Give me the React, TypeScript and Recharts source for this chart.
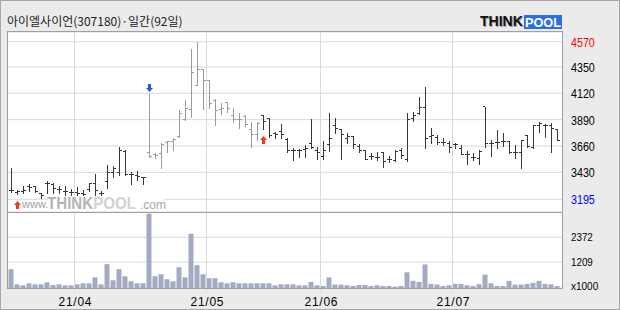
import React from 'react';
import { ComposedChart, Bar, XAxis, YAxis, CartesianGrid, ReferenceLine, ReferenceDot } from 'recharts';

const TITLE = '아이엘사이언(307180)·일간(92일)';

const opens = [3268,3256,3262,3305,3305,3247,3330,3320,3283,3262,3256,3253,3247,3282,3329,3247,3349,3430,3433,3616,3407,3400,3385,3605,3590,3596,3692,3700,3741,3887,3980,4192,4329,4230,4055,3980,4041,3930,3887,3916,3800,3762,3924,3898,3765,3790,3718,3620,3620,3631,3684,3620,3567,3669,3843,3806,3727,3741,3654,3625,3567,3558,3600,3540,3535,3625,3538,3902,3945,3994,3740,3730,3692,3684,3669,3634,3590,3558,3555,4003,3684,3692,3698,3698,3605,3605,3750,3645,3837,3843,3837,3800];
const highs = [3471,3276,3314,3326,3314,3247,3358,3335,3314,3314,3282,3300,3276,3340,3416,3267,3494,3485,3654,3625,3436,3442,3392,4111,3596,3684,3704,3732,3974,4061,4506,4570,4329,4236,4067,4038,4047,3994,3945,3930,3867,3867,3930,3902,3785,3849,3727,3645,3634,3669,3896,3654,3704,3950,3902,3806,3771,3747,3675,3625,3596,3610,3610,3575,3625,3640,3945,3954,4088,4177,3814,3756,3732,3704,3684,3669,3616,3596,3625,4003,3712,3800,3776,3704,3669,3712,3756,3843,3867,3849,3858,3806];
const lows = [3262,3242,3247,3265,3259,3204,3247,3253,3247,3233,3227,3212,3204,3271,3227,3227,3291,3392,3407,3407,3326,3363,3326,3567,3558,3471,3610,3625,3741,3887,3910,4192,3983,3994,3841,3936,3956,3867,3820,3838,3654,3712,3808,3741,3727,3727,3611,3538,3567,3567,3640,3547,3547,3620,3771,3547,3684,3640,3610,3544,3547,3538,3480,3523,3529,3558,3529,3878,3937,3645,3684,3675,3669,3610,3645,3587,3500,3538,3500,3654,3575,3645,3663,3596,3558,3471,3654,3640,3780,3741,3605,3712];
const closes = [3272,3262,3270,3300,3262,3227,3330,3285,3280,3262,3250,3247,3233,3329,3271,3242,3433,3465,3625,3407,3410,3392,3383,3567,3575,3669,3695,3721,3945,3983,4300,4329,4230,4032,3974,3983,3983,3887,3895,3849,3762,3858,3878,3750,3760,3760,3620,3620,3620,3640,3645,3605,3625,3727,3814,3762,3742,3669,3625,3544,3567,3558,3529,3540,3610,3575,3887,3930,3994,3727,3750,3692,3692,3650,3669,3590,3590,3558,3615,3684,3684,3692,3698,3605,3605,3712,3660,3837,3858,3843,3814,3712];
const volumes = [882,173,126,220,173,173,268,142,173,126,126,173,220,220,504,173,1118,362,882,551,315,220,220,3481,551,646,410,315,977,504,2536,1071,646,457,457,268,220,268,220,220,220,220,220,220,126,173,173,173,126,126,288,128,96,496,160,160,128,96,144,144,96,128,96,96,64,96,736,336,288,1104,192,160,96,128,192,192,128,96,176,624,224,96,96,336,160,160,192,240,336,192,176,96];

const priceTicks = [3195, 3430, 3660, 3890, 4120, 4350, 4570];
const volumeTicks = [0, 1209, 2372];
const monthLabels = ['21/04', '21/05', '21/06', '21/07'];
const monthStartIndex = [11, 33, 52, 74];
const upSignals = [1, 42];
const downSignals = [23];
const grayFrom = 23;
const grayTo = 41;

const data = opens.map((o, i) => ({
  i,
  o,
  h: highs[i],
  l: lows[i],
  c: closes[i],
  range: [lows[i], highs[i]],
  vol: volumes[i],
}));

const boundaries = monthStartIndex.map((m) => m - 0.5);
const GRID = '#d9d9d9';
const FRAME = '#a0a0a0';
const LABEL_X = 571;

const OhlcShape = (props: any) => {
  const { x, y, width, height, payload } = props;
  if (x == null || y == null || !payload) return null;
  const cx = Math.floor(x + width / 2) + 0.5;
  const top = Math.min(y, y + height);
  const bot = Math.max(y, y + height);
  const span = payload.h - payload.l;
  const py = (v: number) => (span > 0 ? top + ((payload.h - v) / span) * (bot - top) : top);
  const yo = Math.floor(py(payload.o)) + 0.5;
  const yc = Math.floor(py(payload.c)) + 0.5;
  const color = payload.i >= grayFrom && payload.i <= grayTo ? '#9a9a9a' : '#383838';
  return (
    <g stroke={color} strokeWidth={1}>
      <line x1={cx} x2={cx} y1={Math.round(top)} y2={Math.round(bot) + 1} />
      <line x1={cx - 2.5} x2={cx - 0.5} y1={yo} y2={yo} />
      <line x1={cx + 0.5} x2={cx + 2.5} y1={yc} y2={yc} />
    </g>
  );
};

const UpArrow = (props: any) => {
  const { cx, cy } = props;
  if (cx == null || cy == null) return null;
  const c = Math.floor(cx) + 0.5;
  const t = Math.round(cy) + 7;
  return (
    <g fill="#f03c14">
      <polygon points={`${c},${t} ${c - 3.5},${t + 4} ${c + 3.5},${t + 4}`} />
      <rect x={c - 1.5} y={t + 4} width={3} height={4} />
    </g>
  );
};

const DownArrow = (props: any) => {
  const { cx, cy } = props;
  if (cx == null || cy == null) return null;
  const c = Math.floor(cx) + 0.5;
  const b = Math.round(cy) - 2;
  return (
    <g fill="#1a5fe0">
      <rect x={c - 1.5} y={b - 8} width={3} height={4} />
      <polygon points={`${c - 3.5},${b - 4} ${c + 3.5},${b - 4} ${c},${b}`} />
    </g>
  );
};

const PriceTick = (props: any) => {
  const { y, payload } = props;
  const v = payload.value;
  const color = v === 4570 ? '#ff0000' : v === 3195 ? '#0000ff' : '#000000';
  const s = String(v);
  return (
    <text x={LABEL_X} y={y + 5} fill={color} fontSize={13} fontFamily="Liberation Sans, Arial, sans-serif"
      textLength={s.length * 5.95} lengthAdjust="spacingAndGlyphs">{s}</text>
  );
};

const VolTick = (props: any) => {
  const { y, payload } = props;
  const v = payload.value;
  const s = v === 0 ? 'x1000' : String(v);
  return (
    <text x={LABEL_X} y={y + (v === 0 ? 1.5 : 4)} fill="#000" fontSize={11} fontFamily="Liberation Sans, Arial, sans-serif"
      textLength={s.length * 5.45} lengthAdjust="spacingAndGlyphs">{s}</text>
  );
};

const MonthTick = (props: any) => {
  const { x, payload } = props;
  const idx = boundaries.indexOf(payload.value);
  const label = idx >= 0 ? monthLabels[idx] : '';
  return (
    <text x={x + 0.5} y={93.5} textAnchor="middle" fill="#000" fontSize={12} fontFamily="Liberation Sans, Arial, sans-serif"
      textLength={33} lengthAdjust="spacing">{label}</text>
  );
};

export default function App() {
  return (
    <div style={{ position: 'absolute', left: 0, top: 0, width: 620, height: 310, background: '#ebebeb', overflow: 'hidden' }}>
      <div style={{ position: 'absolute', left: 7, top: 31, width: 556, height: 258, background: '#ffffff' }} />
      <div style={{ position: 'absolute', left: 0, top: 0 }}>
        <ComposedChart width={620} height={212} data={data} margin={{ top: 32, right: 0, bottom: 0, left: 7 }}>
          <CartesianGrid vertical={false} stroke={GRID} />
          <XAxis dataKey="i" type="number" domain={[-0.5, 91.5]} padding={{ left: 1.5, right: 1.5 }} hide />
          <YAxis orientation="right" width={58} domain={[3084, 4655]} ticks={priceTicks} allowDataOverflow
            axisLine={false} tickLine={false} tick={(p: any) => <PriceTick {...p} />} />
          {boundaries.map((b) => (
            <ReferenceLine key={b} x={b} stroke={GRID} />
          ))}
          <Bar dataKey="range" barSize={6} shape={(p: any) => <OhlcShape {...p} />} isAnimationActive={false} />
          {upSignals.map((s) => (
            <ReferenceDot key={'u' + s} x={s} y={lows[s]} r={0} shape={(p: any) => <UpArrow {...p} />} />
          ))}
          {downSignals.map((s) => (
            <ReferenceDot key={'d' + s} x={s} y={highs[s]} r={0} shape={(p: any) => <DownArrow {...p} />} />
          ))}
        </ComposedChart>
      </div>
      <div style={{ position: 'absolute', left: 0, top: 212 }}>
        <ComposedChart width={620} height={98} data={data} margin={{ top: 0, right: 0, bottom: 0, left: 7 }}>
          <CartesianGrid vertical={false} stroke={GRID} />
          <XAxis dataKey="i" type="number" domain={[-0.5, 91.5]} padding={{ left: 1.5, right: 1.5 }} ticks={boundaries}
            interval={0} height={22} axisLine={false} tickLine={{ stroke: GRID }} tickSize={4}
            tick={(p: any) => <MonthTick {...p} />} />
          <YAxis orientation="right" width={58} domain={[0, 3560]} ticks={volumeTicks} allowDataOverflow
            axisLine={false} tickLine={false} tick={(p: any) => <VolTick {...p} />} />
          {boundaries.map((b) => (
            <ReferenceLine key={b} x={b} stroke={GRID} />
          ))}
          <Bar dataKey="vol" barSize={5} fill="#a3aac2" isAnimationActive={false} />
        </ComposedChart>
      </div>
      <svg width={620} height={310} style={{ position: 'absolute', left: 0, top: 0, pointerEvents: 'none' }}>
        <rect x={0.5} y={0.5} width={619} height={309} fill="none" stroke="#a8a8a8" />
        <rect x={7.5} y={31.5} width={555} height={257} fill="none" stroke={FRAME} />
        <line x1={7} x2={563} y1={212.5} y2={212.5} stroke={FRAME} />
        <text x={7} y={26} fontSize={12} fill="#222" fontFamily="'Noto Sans CJK KR', sans-serif">{TITLE}</text>
        <g fontFamily="Liberation Sans, Arial, sans-serif" fontWeight="bold">
          <text x={481} y={27} fontSize={14} fill="#9a9a9a">THINK</text>
          <text x={480} y={26} fontSize={14} fill="#111">THINK</text>
          <rect x={524} y={15} width={38} height={14} fill="#2c6fe0" />
          <text x={525} y={27} fontSize={13} fill="#ffffff" textLength={36} lengthAdjust="spacingAndGlyphs">POOL</text>
        </g>
        <rect x={47} y={196} width={117} height={15} fill="#ffffff" />
        <text x={22} y={208} fontSize={11} fill="#a0a0a0" fontFamily="Liberation Sans, Arial, sans-serif">www.</text>
        <text x={47} y={209} fontSize={16} fontWeight="bold" fontFamily="Liberation Sans, Arial, sans-serif"
          textLength={89} lengthAdjust="spacingAndGlyphs">
          <tspan fill="#b4b4b4">THINK</tspan>
          <tspan fill="#d2d2d2">POOL</tspan>
        </text>
        <text x={140} y={209} fontSize={12} fill="#a8a8a8" fontFamily="Liberation Sans, Arial, sans-serif">.com</text>
      </svg>
    </div>
  );
}
